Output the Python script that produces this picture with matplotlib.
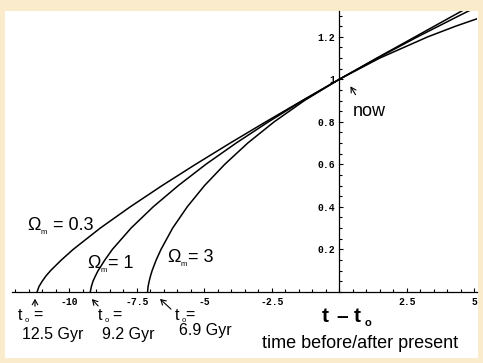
import matplotlib
matplotlib.use('Agg')
import matplotlib.pyplot as plt
from matplotlib.patches import Rectangle, FancyArrowPatch
from matplotlib.ticker import MultipleLocator, FixedLocator

W, H = 483, 363

# scale factor a(t) for the three models, t - t0 in Gyr
om03_a = [0, 0.025, 0.05, 0.075, 0.1, 0.15, 0.2, 0.3, 0.4, 0.5, 0.6, 0.7, 0.8, 0.9, 1.0, 1.1, 1.2, 1.3, 1.36]
om03_t = [-11.19, -11.12, -11.00, -10.86, -10.69, -10.29, -9.85, -8.85, -7.74, -6.56, -5.32, -4.04,
          -2.72, -1.37, 0.0, 1.39, 2.81, 4.23, 5.09]

om1_a = [0, 0.025, 0.05, 0.075, 0.1, 0.15, 0.2, 0.3, 0.4, 0.5, 0.6, 0.7, 0.8, 0.9, 1.0, 1.1, 1.2, 1.3, 1.36]
om1_t = [-9.22, -9.18, -9.12, -9.03, -8.93, -8.68, -8.40, -7.71, -6.89, -5.96, -4.94, -3.82,
         -2.62, -1.35, 0.0, 1.42, 2.90, 4.45, 5.40]

om3_a = [0, 0.025, 0.05, 0.075, 0.1, 0.15, 0.2, 0.3, 0.4, 0.5, 0.6, 0.7, 0.8, 0.9, 1.0, 1.1, 1.2, 1.25, 1.28, 1.29]
om3_t = [-7.10, -7.08, -7.04, -6.99, -6.93, -6.78, -6.60, -6.17, -5.63, -4.99, -4.24, -3.39,
         -2.41, -1.29, 0.0, 1.50, 3.28, 4.31, 4.99, 5.23]

x_ticks = [-10, -7.5, -5, -2.5, 2.5, 5]
x_labels = ['-10', '-7.5', '-5', '-2.5', '2.5', '5']
y_ticks = [0.2, 0.4, 0.6, 0.8, 1.0, 1.2]
y_labels = ['0.2', '0.4', '0.6', '0.8', '1', '1.2']

plt.rcParams['font.family'] = ['Liberation Sans', 'DejaVu Sans']

fig = plt.figure(figsize=(W / 100, H / 100), dpi=100)
fig.patch.set_facecolor('#F9EBCB')
fig.patches.append(Rectangle((5 / W, 1 - 358 / H), 473 / W, 347 / H, transform=fig.transFigure,
                             facecolor='white', edgecolor='none', zorder=-5))


def px(x, y):
    return x / W, 1 - y / H


def ptext(x, y, s, size, **kw):
    kw.setdefault('va', 'center')
    kw.setdefault('ha', 'left')
    fig.text(*px(x, y), s, fontsize=size, **kw)


def parrow(x0, y0, x1, y1):
    fig.add_artist(FancyArrowPatch(
        px(x0, y0), px(x1, y1), transform=fig.transFigure,
        arrowstyle='->,head_length=3.5,head_width=2', lw=0.8, color='black'))


ax = fig.add_axes([12 / W, 71.2 / H, 465 / W, 280.5 / H])
ax.set_zorder(2)
ax.set_facecolor('none')
ax.set_xlim(-12.12, 5.1)
ax.set_ylim(0, 1.32)

for t, a in [(om03_t, om03_a), (om1_t, om1_a), (om3_t, om3_a)]:
    ax.plot(t, a, color='black', lw=1.1)

ax.spines['top'].set_visible(False)
ax.spines['right'].set_visible(False)
ax.spines['left'].set_position(('data', 0))
ax.spines['left'].set_linewidth(0.9)
ax.spines['bottom'].set_linewidth(0.9)

ax.xaxis.set_major_locator(FixedLocator(x_ticks))
ax.set_xticklabels(x_labels)
ax.xaxis.set_minor_locator(MultipleLocator(0.5))
ax.yaxis.set_major_locator(FixedLocator(y_ticks))
ax.set_yticklabels(y_labels)
ax.yaxis.set_minor_locator(MultipleLocator(0.05))
ax.tick_params(which='both', direction='in', width=0.8, labelsize=7)
ax.tick_params(which='major', length=3.2)
ax.tick_params(which='minor', length=2.0)
ax.tick_params(axis='x', pad=4)
ax.tick_params(axis='y', pad=3)
for lab in ax.get_xticklabels() + ax.get_yticklabels():
    lab.set_family(['Liberation Mono', 'DejaVu Sans Mono'])
    lab.set_fontweight('bold')

# curve labels
for xo, yo, val, xe in [(27, 225, '0.3', 53), (87, 264, '1', 108), (167, 258, '3', 188)]:
    ptext(xo, yo, '\u03a9', 13)
    ptext(xo + 14, yo + 7, 'm', 5.5)
    ptext(xe, yo, '= ' + val, 13)

# now marker
parrow(357, 97, 349, 84)
ptext(353, 112, 'now', 13)

# ages
parrow(35, 309, 35, 296)
parrow(100, 308, 90, 297)
parrow(173, 311, 158, 297)
for xt, yt, xeq, age, ya in [(18, 315, 33, '12.5 Gyr', 335), (98, 315, 112, '9.2 Gyr', 334),
                             (175, 315, 185, '6.9 Gyr', 331)]:
    ptext(xt, yt, 't', 11.5)
    ptext(xt + 7, yt + 5, 'o', 5.5)
    ptext(xeq, yt, '=', 11.5)
    ptext(xt + 4, ya, age, 11.5)

# axis title
ptext(322, 316, 't', 15, fontweight='bold')
ptext(342, 316, '\u2013', 15, fontweight='bold', ha='center')
ptext(354, 316, 't', 15, fontweight='bold')
ptext(365, 323, 'o', 8, fontweight='bold')
ptext(262, 344, 'time before/after present', 13)

fig.savefig('out.png', dpi=100, facecolor=fig.get_facecolor())
